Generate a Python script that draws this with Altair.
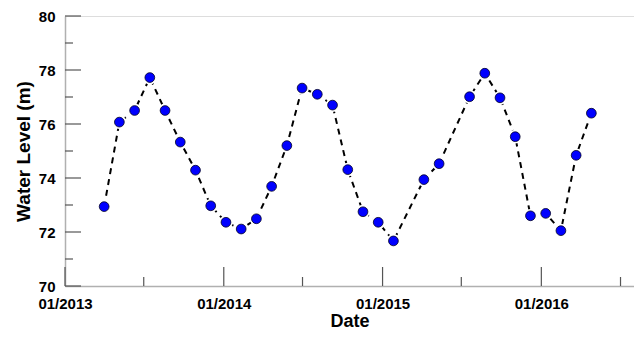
import altair as alt
import pandas as pd

dates = [
    "2013-04-01", "2013-05-06", "2013-06-10", "2013-07-15", "2013-08-19",
    "2013-09-23", "2013-10-28", "2013-12-02", "2014-01-06", "2014-02-10",
    "2014-03-17", "2014-04-21", "2014-05-26", "2014-06-30", "2014-08-04",
    "2014-09-08", "2014-10-13", "2014-11-17", "2014-12-22", "2015-01-26",
    "2015-04-06", "2015-05-11", "2015-07-20", "2015-08-24", "2015-09-28",
    "2015-11-02", "2015-12-07", "2016-01-11", "2016-02-15", "2016-03-21",
    "2016-04-25",
]
levels = [
    72.94, 76.07, 76.50, 77.72, 76.50, 75.33, 74.29, 72.97, 72.36, 72.11,
    72.49, 73.69, 75.20, 77.33, 77.10, 76.70, 74.31, 72.75, 72.36, 71.67,
    73.94, 74.53, 77.01, 77.88, 76.97, 75.53, 72.60, 72.69, 72.05, 74.84,
    76.40,
]
year_ticks = ["2013-01-01", "2014-01-01", "2015-01-01", "2016-01-01"]
half_ticks = ["2013-07-01", "2014-07-01", "2015-07-01", "2016-07-01"]
y_major = [70, 72, 74, 76, 78, 80]
y_minor = [71, 73, 75, 77, 79]

FONT = "Liberation Sans"
W, H = 569, 270

df = pd.DataFrame({"date": [d + "T00:00:00" for d in dates], "level": levels})
xmaj = pd.DataFrame({"date": [d + "T00:00:00" for d in year_ticks]})
xmin = pd.DataFrame({"date": [d + "T00:00:00" for d in half_ticks]})
ymaj = pd.DataFrame({"v": y_major})
ymin = pd.DataFrame({"v": y_minor})

xscale = alt.Scale(domain=[alt.DateTime(year=2013, month=1, date=1),
                           alt.DateTime(year=2016, month=8, date=1)])
yscale = alt.Scale(domain=[70, 80], nice=False, zero=False)

xaxis = alt.Axis(
    values=[alt.DateTime(year=y, month=1, date=1) for y in (2013, 2014, 2015, 2016)],
    format="%m/%Y", ticks=False, grid=False, labelFont=FONT, labelFontSize=15,
    labelFontWeight="bold", labelColor="black", labelPadding=10,
    domainColor="#b0b0b0", domainWidth=1.5, title="Date", titleFont=FONT,
    titleFontSize=18, titleFontWeight="bold", titleColor="black", titlePadding=1,
    labelFlush=False,
)
yaxis = alt.Axis(
    values=y_major, ticks=False, grid=False, labelFont=FONT, labelFontSize=15,
    labelFontWeight="bold", labelColor="black", labelPadding=10,
    domainColor="#b0b0b0", domainWidth=1.5, title="Water Level (m)", titleFont=FONT,
    titleFontSize=19, titleFontWeight="bold", titleColor="black", titlePadding=5,
)

line = alt.Chart(df).mark_line(color="black", strokeDash=[6, 5], strokeWidth=2).encode(
    x=alt.X("date:T", scale=xscale, axis=xaxis),
    y=alt.Y("level:Q", scale=yscale, axis=yaxis),
)
halo = alt.Chart(df).mark_point(filled=True, color="white", size=190, opacity=1, shape="circle").encode(
    x="date:T", y="level:Q"
)
pts = alt.Chart(df).mark_point(filled=True, fill="#0000FF", stroke="#000022", strokeWidth=0.8,
                               size=95, opacity=1, shape="circle").encode(
    x="date:T", y="level:Q"
)
tick_color = "#555555"
xt_major = alt.Chart(xmaj).mark_rule(color=tick_color, strokeWidth=1.2).encode(
    x="date:T", y=alt.value(H), y2=alt.value(H - 19)
)
xt_minor = alt.Chart(xmin).mark_rule(color=tick_color, strokeWidth=1.2).encode(
    x="date:T", y=alt.value(H), y2=alt.value(H - 9)
)
yt_major = alt.Chart(ymaj).mark_rule(color=tick_color, strokeWidth=1.2).encode(
    y="v:Q", x=alt.value(0), x2=alt.value(16)
)
yt_minor = alt.Chart(ymin).mark_rule(color=tick_color, strokeWidth=1.2).encode(
    y="v:Q", x=alt.value(0), x2=alt.value(8)
)

chart = alt.layer(line, xt_major, xt_minor, yt_major, yt_minor, halo, pts).properties(
    width=W, height=H,
    autosize=alt.AutoSizeParams(type="none"),
    padding={"left": 57, "top": 8, "right": 0, "bottom": 44},
).configure_view(stroke=None).configure(background="white")

chart.save("out.html", embed_options={"renderer": "svg", "actions": False})
